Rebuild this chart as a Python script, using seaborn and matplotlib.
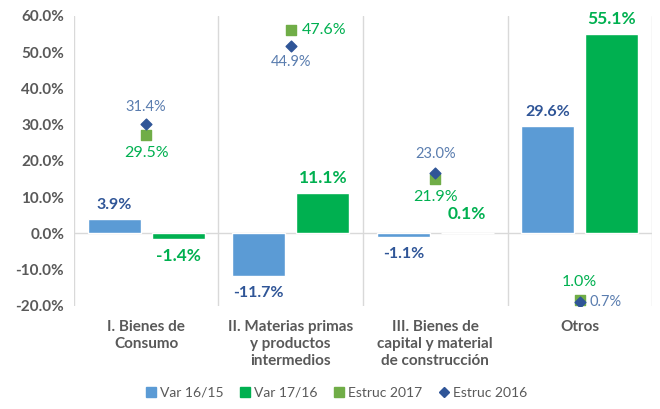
import matplotlib
matplotlib.use("Agg")
import matplotlib.pyplot as plt
import seaborn as sns
import pandas as pd
from matplotlib.lines import Line2D
from matplotlib.patches import Patch

categorias = ["I. Bienes de\nConsumo", "II. Materias primas\ny productos\nintermedios",
              "III. Bienes de\ncapital y material\nde construcción", "Otros"]
var_16_15 = [3.9, -11.7, -1.1, 29.6]
var_17_16 = [-1.4, 11.1, 0.1, 55.1]
estruc_2017 = [29.5, 47.6, 21.9, 1.0]
estruc_2016 = [31.4, 44.9, 23.0, 0.7]

c_azul = "#5B9BD5"
c_verde = "#00B050"
c_cuadro = "#70AD47"
c_rombo = "#2F5597"
c_txt_azul = "#2F5597"
c_txt_rombo = "#5A7DAF"
gris = "#595959"

sns.set_style("white")
plt.rcParams['font.family'] = ['Lato', 'DejaVu Sans']

df = pd.DataFrame({
    'cat': categorias * 2,
    'valor': var_16_15 + var_17_16,
    'serie': ['Var 16/15'] * 4 + ['Var 17/16'] * 4,
})

fig = plt.figure(figsize=(6.6, 4.09), dpi=100)
ax = fig.add_axes([0.112, 0.252, 0.876, 0.709])
sns.barplot(data=df, x='cat', y='valor', hue='serie', palette=[c_azul, c_verde],
            width=0.886, gap=0.17, ax=ax, legend=False, saturation=1)
ax.set_xlim(-0.5, 3.5)
ax.set_ylim(-20, 60)
ax.set_yticks(range(-20, 61, 10))
ax.set_yticklabels([f"{v:.1f}%" for v in range(-20, 61, 10)], color=gris,
                   fontsize=11, fontweight='bold')
ax.set_xticks(range(4))
ax.set_xticklabels(categorias, color=gris, fontsize=11, fontweight='bold',
                   linespacing=1.3)
ax.tick_params(axis='y', length=0, pad=7)
ax.tick_params(axis='x', length=0, pad=10)
ax.set_xlabel('')
ax.set_ylabel('')
for s in ax.spines.values():
    s.set_visible(False)
for x in [-0.5, 0.5, 1.5, 2.5, 3.5]:
    ax.axvline(x, color='#D9D9D9', lw=1, zorder=0)
ax.axhline(0, color='#D9D9D9', lw=1, zorder=0)

off = 0.886 / 4
for i in range(4):
    v = var_16_15[i]
    ax.annotate(f"{v:.1f}%", (i - off, v), xytext=(0, 5 if v >= 0 else -7),
                textcoords='offset points', ha='center', va='bottom' if v >= 0 else 'top',
                color=c_txt_azul, fontsize=11.5, fontweight='bold')
    v = var_17_16[i]
    dy = 5 if v >= 0 else -7
    if i == 2:
        dy = 8
    ax.annotate(f"{v:.1f}%", (i + off, v), xytext=(0, dy),
                textcoords='offset points', ha='center', va='bottom' if v >= 0 else 'top',
                color=c_verde, fontsize=12.5, fontweight='bold')

# eje secundario oculto para las estructuras
ax2 = ax.twinx()
ax2.set_ylim(0, 50)
ax2.axis('off')
ax2.set_position(ax.get_position())
ax2.set_xlim(-0.5, 3.5)
xs = list(range(4))
ax2.scatter(xs, estruc_2017, marker='s', s=50, color=c_cuadro, zorder=3)
ax2.scatter(xs, estruc_2016, marker='D', s=30, color=c_rombo, zorder=4)

pos_2017 = [(0, -8, 'center', 'top'), (8, 0, 'left', 'center'),
            (0, -8, 'center', 'top'), (0, 8, 'center', 'bottom')]
pos_2016 = [(0, 7, 'center', 'bottom'), (0, -7, 'center', 'top'),
            (0, 8, 'center', 'bottom'), (7, 0, 'left', 'center')]
for i in range(4):
    dx, dy, ha, va = pos_2017[i]
    ax2.annotate(f"{estruc_2017[i]:.1f}%", (i, estruc_2017[i]), xytext=(dx, dy),
                 textcoords='offset points', ha=ha, va=va, color=c_verde, fontsize=11.5)
    dx, dy, ha, va = pos_2016[i]
    ax2.annotate(f"{estruc_2016[i]:.1f}%", (i, estruc_2016[i]), xytext=(dx, dy),
                 textcoords='offset points', ha=ha, va=va, color=c_txt_rombo, fontsize=10.5)

handles = [Patch(color=c_azul, label='Var 16/15'),
           Patch(color=c_verde, label='Var 17/16'),
           Patch(color=c_cuadro, label='Estruc 2017'),
           Line2D([], [], marker='D', color=c_rombo, lw=0, markersize=5, label='Estruc 2016')]
fig.legend(handles=handles, loc='lower center', bbox_to_anchor=(0.51, -0.005), ncol=4,
           frameon=False, fontsize=10, handlelength=0.7, handleheight=0.7,
           handletextpad=0.3, columnspacing=1.2, labelcolor=gris)

fig.savefig('out.png', dpi=100)
